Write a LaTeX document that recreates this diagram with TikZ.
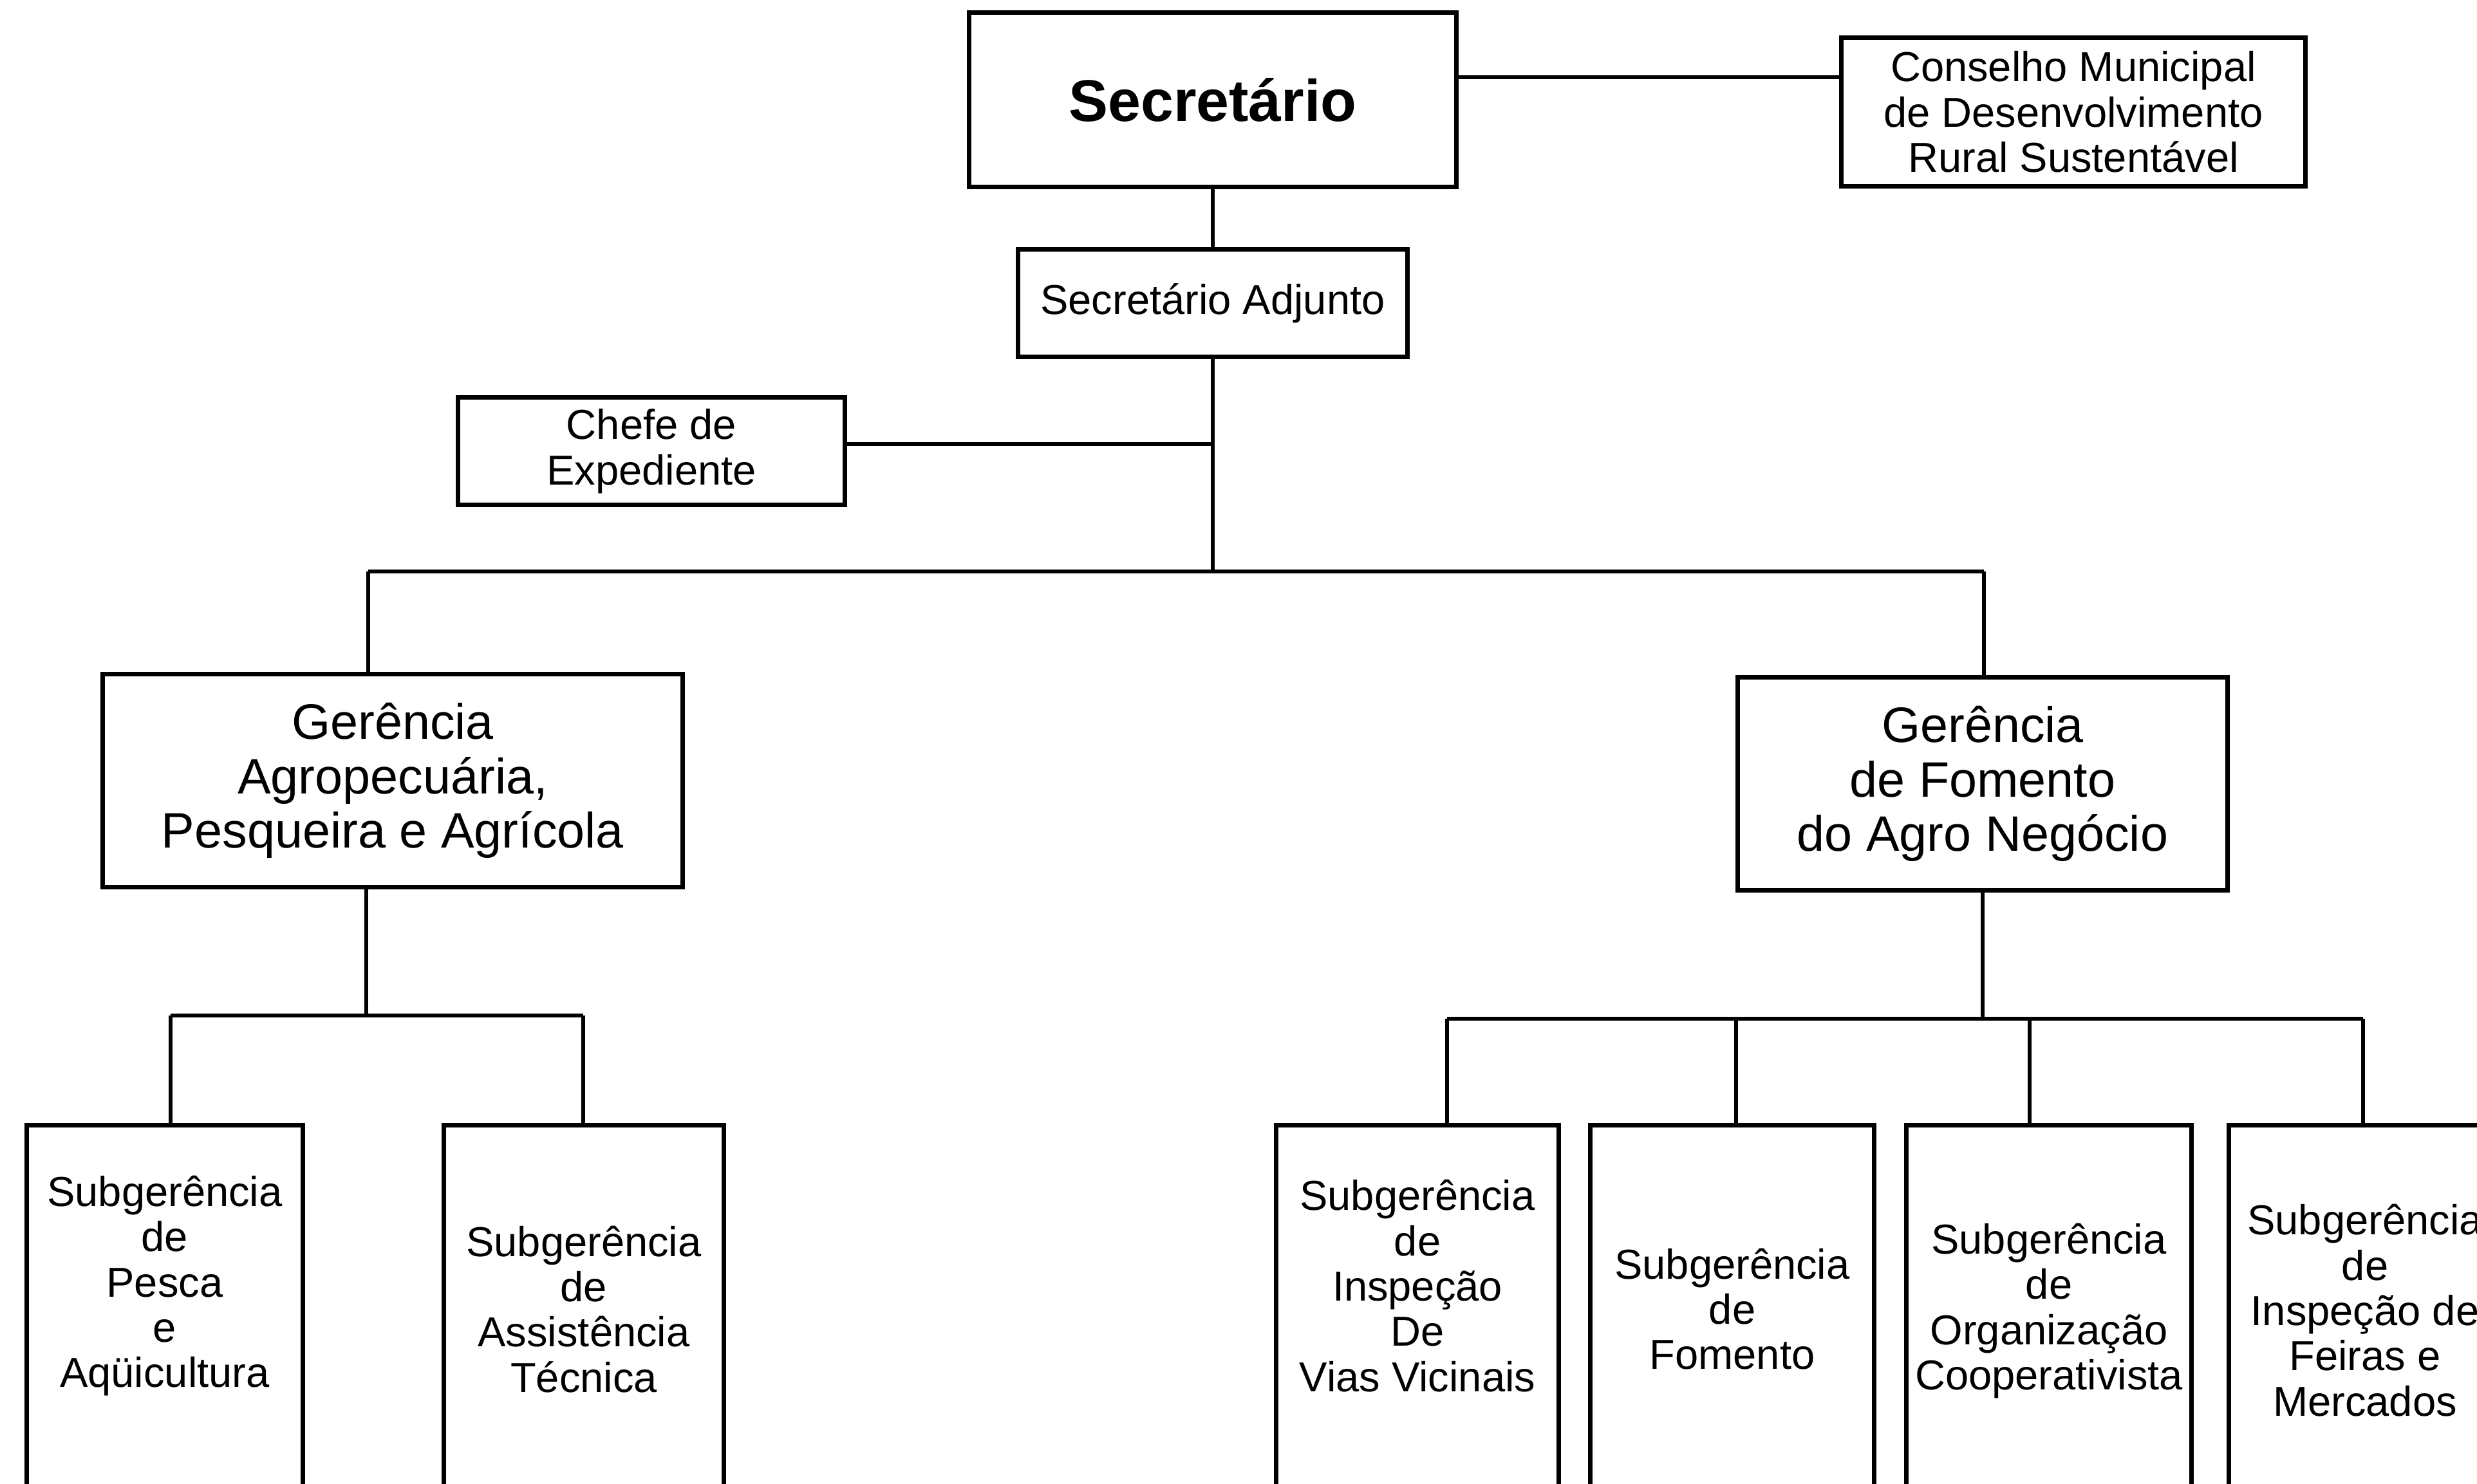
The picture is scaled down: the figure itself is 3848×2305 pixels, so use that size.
\documentclass[tikz,border=0pt]{standalone}
\usepackage{fontspec}
\setmainfont{Liberation Sans}
\usetikzlibrary{positioning}

\begin{document}
\begin{tikzpicture}[x=0.01cm, y=-0.01cm, line width=1.8pt,
    box/.style={draw, rectangle, line width=2pt, align=center, inner sep=0pt},
    big/.style={box, font=\fontsize{22}{24}\selectfont},
    small/.style={box, font=\fontsize{18.5}{20}\selectfont},
    sub/.style={draw, rectangle, line width=2pt, anchor=north, minimum height=7cm},
    subtxt/.style={align=center, font=\fontsize{18.5}{20}\selectfont}]
    \useasboundingbox (0,0) rectangle (3848,2305);
    \clip (0,0) rectangle (3848,2305);
    % top
    \node[box, minimum width=7.56cm, minimum height=2.7cm, font=\bfseries\fontsize{26}{28}\selectfont] (sec) at (1884,155) {Secretário};
    \node[small, minimum width=7.2cm, minimum height=2.31cm] (cons) at (3221,174) {Conselho Municipal\\de Desenvolvimento\\Rural Sustentável};
    \node[small, minimum width=6.04cm, minimum height=1.67cm] (adj) at (1884,471) {Secretário Adjunto};
    \node[small, minimum width=6.01cm, minimum height=1.67cm] (chefe) at (1012,701) {Chefe de\\Expediente};
    % gerencias
    \node[big, minimum width=9cm, minimum height=3.31cm] (agro) at (610,1213) {Gerência\\Agropecuária,\\Pesqueira e Agrícola};
    \node[big, minimum width=7.61cm, minimum height=3.31cm] (fom) at (3080,1218) {Gerência\\de Fomento\\do Agro Negócio};
    % subgerencias
    \node[sub, minimum width=4.29cm] (pesca) at (256,1745) {};
    \node[sub, minimum width=4.34cm] (assist) at (907,1745) {};
    \node[sub, minimum width=4.39cm] (vias) at (2202,1745) {};
    \node[sub, minimum width=4.40cm] (fomsub) at (2691,1745) {};
    \node[sub, minimum width=4.42cm] (org) at (3183,1745) {};
    \node[sub, minimum width=4.22cm] (feiras) at (3674,1745) {};
    \node[subtxt] (tpesca) at ([yshift=-2.53cm]pesca.north) {Subgerência\\de\\Pesca\\e\\Aqüicultura};
    \node[subtxt] (tassist) at ([yshift=-2.89cm]assist.north) {Subgerência\\de\\Assistência\\Técnica};
    \node[subtxt] (tvias) at ([yshift=-2.53cm]vias.north) {Subgerência\\de\\Inspeção\\De\\Vias Vicinais};
    \node[subtxt] (tfomsub) at ([yshift=-2.89cm]fomsub.north) {Subgerência\\de\\Fomento};
    \node[subtxt] (torg) at ([yshift=-2.92cm]org.north) {Subgerência\\de\\Organização\\Cooperativista};
    \node[subtxt] (tfeiras) at ([yshift=-2.91cm]feiras.north) {Subgerência\\de\\Inspeção de\\Feiras e\\Mercados};

    \coordinate (hub) at (1884,888);
    \coordinate (hubL) at (572,888);
    \coordinate (hubR) at (3082,888);
    \coordinate (agroFoot) at (569,1578);
    \coordinate (l1) at (265,1578);
    \coordinate (l2) at (906,1578);
    \coordinate (r1) at (2248,1583);
    \coordinate (r2) at (2697,1583);
    \coordinate (r3) at (3153,1583);
    \coordinate (r4) at (3671,1583);

    \draw ([yshift=0.35cm]sec.east) -- ([yshift=0.35cm]sec.east -| cons.west);
    \draw (sec) -- (adj);
    \draw (adj) -- (hub);
    \draw ([yshift=0.11cm]chefe.east) -- ([yshift=0.11cm]chefe.east -| hub);
    \draw (hubL) -- (hubR);
    \draw (hubL) -- (hubL |- agro.north);
    \draw (hubR) -- (hubR |- fom.north);
    \draw (agroFoot) -- (agroFoot |- agro.south);
    \draw (l1) -- (l2);
    \draw (fom.south) -- (fom.south |- r1);
    \draw (r1) -- (r4);
    \foreach \c/\b in {l1/pesca, l2/assist, r1/vias, r2/fomsub, r3/org, r4/feiras}
        \draw (\c) -- (\c |- \b.north);
\end{tikzpicture}
\end{document}
